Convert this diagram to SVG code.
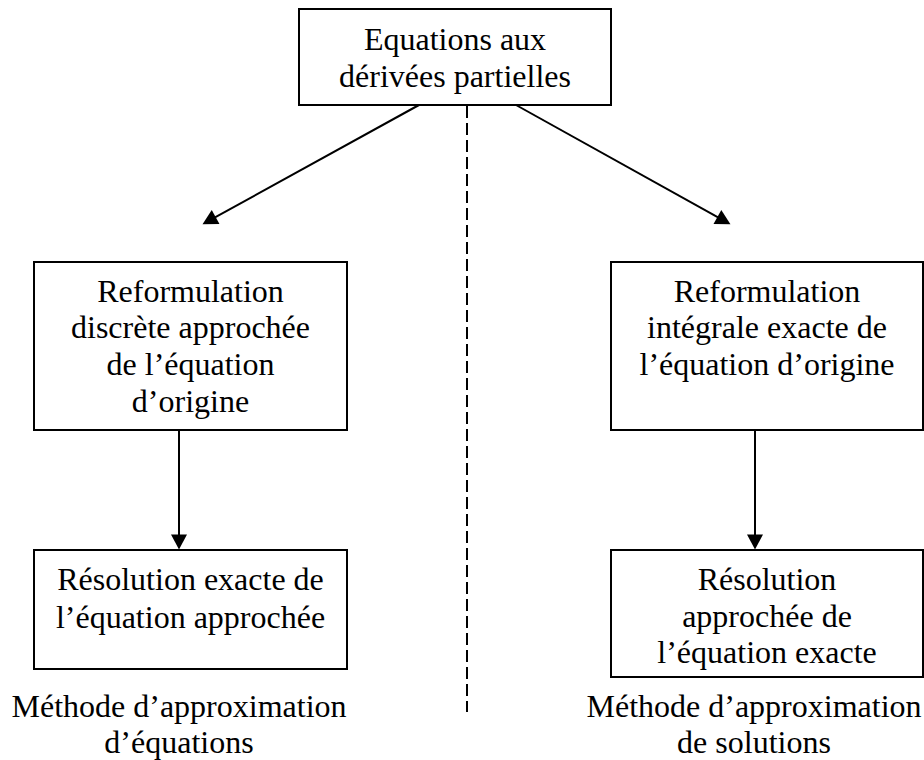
<svg xmlns="http://www.w3.org/2000/svg" width="924" height="760" viewBox="0 0 924 760">
  <style>
    .box { fill: #ffffff; stroke: #000000; stroke-width: 2; }
    .t { font-family: "Liberation Serif", "Times New Roman", serif; font-size: 32px; fill: #000000; text-anchor: middle; }
    .conn { stroke: #000000; stroke-width: 2; fill: none; }
    .dash { stroke: #000000; stroke-width: 2; fill: none; stroke-dasharray: 12 5; }
  </style>
  <defs>
    <marker id="arrow" markerUnits="userSpaceOnUse" markerWidth="16" markerHeight="16" viewBox="0 0 14 15" refX="6" refY="7.5" orient="auto">
      <path d="M0,0 L14,7.5 L0,15 z" fill="#000000"/>
    </marker>
  </defs>
  <rect width="924" height="760" fill="#ffffff"/>

  <g id="connectors">
    <line class="dash" x1="467" y1="106" x2="467" y2="712"/>
    <line class="conn" x1="419" y1="105" x2="210" y2="220.1" marker-end="url(#arrow)"/>
    <line class="conn" x1="516" y1="105" x2="723" y2="220.1" marker-end="url(#arrow)"/>
    <line class="conn" x1="179" y1="430" x2="179" y2="541" marker-end="url(#arrow)"/>
    <line class="conn" x1="755" y1="430" x2="755" y2="541" marker-end="url(#arrow)"/>
  </g>

  <g id="node-top">
    <rect class="box" x="299" y="9" width="312" height="96"/>
    <text class="t" x="455" y="50">Equations aux</text>
    <text class="t" x="455" y="87">dérivées partielles</text>
  </g>

  <g id="node-left-reformulation">
    <rect class="box" x="34" y="262" width="313" height="168"/>
    <text class="t" x="190.5" y="302">Reformulation</text>
    <text class="t" x="190.5" y="338">discrète approchée</text>
    <text class="t" x="190.5" y="375">de l’équation</text>
    <text class="t" x="190.5" y="412">d’origine</text>
  </g>

  <g id="node-left-resolution">
    <rect class="box" x="34" y="550" width="313" height="119"/>
    <text class="t" x="190.5" y="590">Résolution exacte de</text>
    <text class="t" x="190.5" y="628">l’équation approchée</text>
  </g>

  <g id="label-left">
    <text class="t" x="179" y="717">Méthode d’approximation</text>
    <text class="t" x="179" y="753">d’équations</text>
  </g>

  <g id="node-right-reformulation">
    <rect class="box" x="611" y="262" width="312" height="168"/>
    <text class="t" x="767" y="302">Reformulation</text>
    <text class="t" x="767" y="338">intégrale exacte de</text>
    <text class="t" x="767" y="375">l’équation d’origine</text>
  </g>

  <g id="node-right-resolution">
    <rect class="box" x="611" y="550" width="312" height="127"/>
    <text class="t" x="767" y="590">Résolution</text>
    <text class="t" x="767" y="627">approchée de</text>
    <text class="t" x="767" y="663">l’équation exacte</text>
  </g>

  <g id="label-right">
    <text class="t" x="754" y="717">Méthode d’approximation</text>
    <text class="t" x="754" y="753">de solutions</text>
  </g>
</svg>
